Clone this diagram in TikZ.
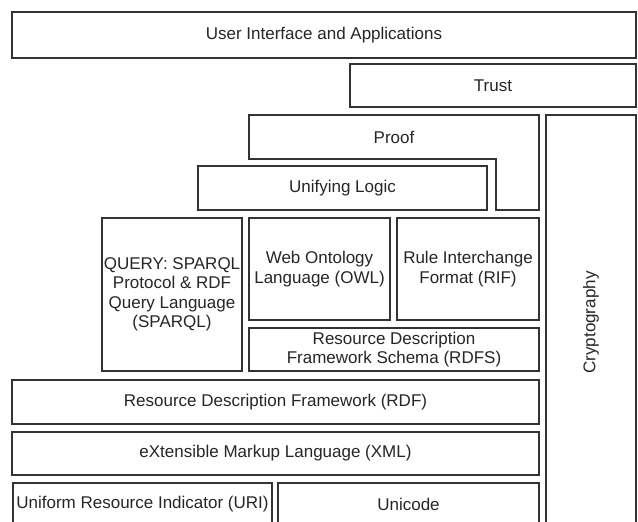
\documentclass[tikz,border=0pt]{standalone}
\usepackage{fontspec}
\setmainfont{Liberation Sans}
\begin{document}
\begin{tikzpicture}[x=1pt,y=-1pt,
  lay/.style={draw=black!80, line width=2.3pt, inner sep=0pt, outer sep=0pt,
    align=center, text=black!85, font=\fontsize{17}{19.5}\selectfont},
  laytext/.style={inner sep=0pt, align=center, text=black!85, font=\fontsize{17}{19.5}\selectfont},
  layline/.style={draw=black!80, line width=2.3pt, line join=miter}]
\clip (0,0) rectangle (638,522);
\fill[white] (0,0) rectangle (638,522);
\node[lay, minimum width=624pt, minimum height=46pt] (ui) at (324,35) {User Interface and Applications};
\node[lay, minimum width=286pt, minimum height=43pt] (trust) at (493,85.5) {Trust};
\draw[layline] (249,115) -- (539,115) -- (539,210) -- (496,210) -- (496,159) -- (249,159) -- cycle;
\node[laytext] (proof) at (394,137) {Proof};
\node[lay, rotate=90, minimum width=415pt, minimum height=90pt] (crypto) at (591,322.5) {Cryptography};
\node[lay, minimum width=289pt, minimum height=44pt] (logic) at (342.5,188) {Unifying Logic};
\node[lay, minimum width=140pt, minimum height=153pt] (query) at (172,294.5) {QUERY: SPARQL\\Protocol \& RDF\\Query Language\\(SPARQL)};
\node[lay, minimum width=141pt, minimum height=102pt] (owl) at (319.5,269) {Web Ontology\\Language (OWL)};
\node[lay, minimum width=142pt, minimum height=102pt] (rif) at (468,269) {Rule Interchange\\Format (RIF)};
\node[lay, minimum width=290pt, minimum height=43pt] (rdfs) at (394,349.5) {Resource Description\\Framework Schema (RDFS)};
\node[lay, minimum width=527pt, minimum height=44pt] (rdf) at (275.5,402) {Resource Description Framework (RDF)};
\node[lay, minimum width=527pt, minimum height=43pt] (xml) at (275.5,453.5) {eXtensible Markup Language (XML)};
\node[lay, minimum width=259pt, minimum height=43pt] (uri) at (142.5,504.5) {Uniform Resource Indicator (URI)};
\node[lay, minimum width=261pt, minimum height=43pt] (unicode) at (408.5,504.5) {Unicode};
\end{tikzpicture}
\end{document}
